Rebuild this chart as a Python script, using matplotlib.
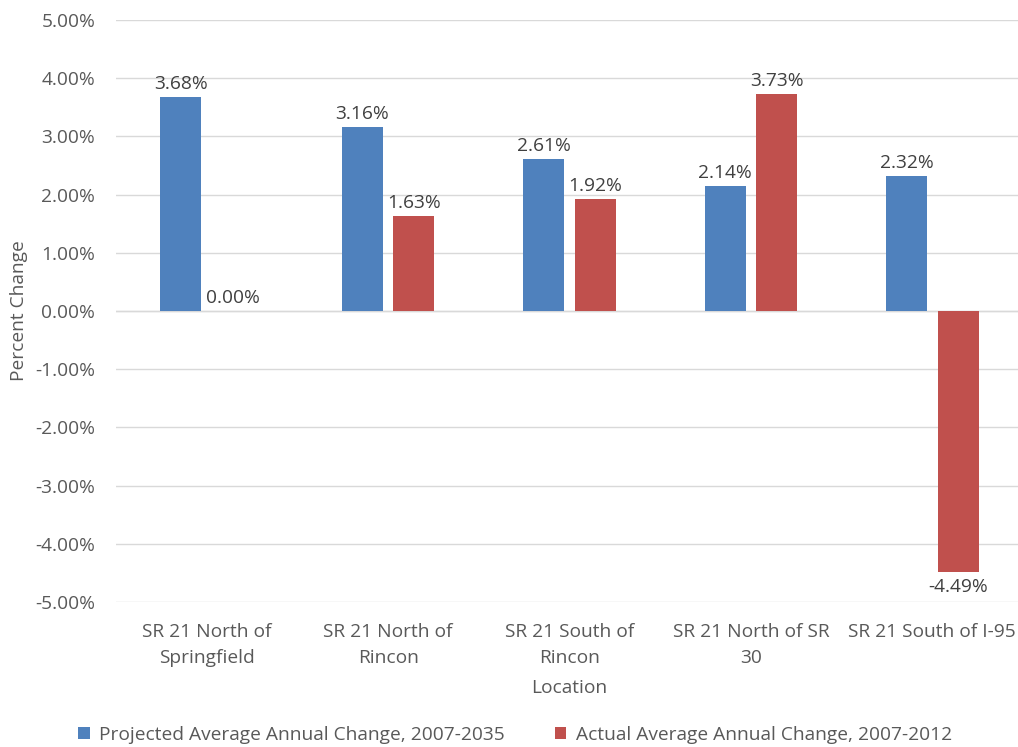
import numpy as np
import matplotlib.pyplot as plt
from matplotlib.ticker import FuncFormatter

plt.rcParams['font.family'] = ['Open Sans', 'DejaVu Sans']

# Data
locations = ['SR 21 North of\nSpringfield', 'SR 21 North of\nRincon', 'SR 21 South of\nRincon',
             'SR 21 North of SR\n30', 'SR 21 South of I-95']
projected = [3.68, 3.16, 2.61, 2.14, 2.32]
actual = [0.00, 1.63, 1.92, 3.73, -4.49]
series_names = ['Projected Average Annual Change, 2007-2035', 'Actual Average Annual Change, 2007-2012']

blue = '#4F81BD'
red = '#C0504D'
txt = '#595959'
fs = 13.8

W, H = 1018, 747
fig = plt.figure(figsize=(W / 100, H / 100), dpi=100)
ax = fig.add_axes([116 / W, (H - 602) / H, 907 / W, 582 / H])

x = np.arange(len(locations))
bw = 0.226
off = 0.142
b1 = ax.bar(x - off, projected, bw, color=blue, zorder=3, label=series_names[0])
b2 = ax.bar(x + off, actual, bw, color=red, zorder=3, label=series_names[1])

for bars, vals in [(b1, projected), (b2, actual)]:
    for b, v in zip(bars, vals):
        cx = b.get_x() + b.get_width() / 2
        if v >= 0:
            ax.annotate(f'{v:.2f}%', (cx, v), xytext=(0, 3), textcoords='offset points',
                        ha='center', va='bottom', fontsize=fs, color='#404040')
        else:
            ax.annotate(f'{v:.2f}%', (cx, v), xytext=(0, -4), textcoords='offset points',
                        ha='center', va='top', fontsize=fs, color='#404040')

ax.set_ylim(-5, 5)
ax.set_xlim(-0.5, len(locations) - 0.5)
ax.set_yticks(np.arange(-5, 5.01, 1))
ax.yaxis.set_major_formatter(FuncFormatter(lambda v, p: f'{v:.2f}%'))
ax.set_xticks(x)
ax.set_xticklabels(locations, linespacing=1.55)
ax.tick_params(axis='both', length=0, labelsize=fs, colors=txt)
ax.tick_params(axis='x', pad=15)
ax.tick_params(axis='y', pad=15)
ax.grid(axis='y', color='#D9D9D9', linewidth=1, zorder=0)
ax.axhline(0, color='#D9D9D9', linewidth=1, zorder=1)
for s in ax.spines.values():
    s.set_visible(False)

ax.set_ylabel('Percent Change', fontsize=fs, color=txt, labelpad=5)
ax.set_xlabel('Location', fontsize=fs, color=txt, labelpad=9)

fig.legend(handles=[b1, b2], loc='center', bbox_to_anchor=(0.5 + 6 / W, 1 - 735 / H), ncol=2,
           frameon=False, fontsize=fs, labelcolor=txt, handlelength=0.6, handleheight=0.6,
           handletextpad=0.5, columnspacing=2.6)

fig.savefig('out.png', dpi=100)
